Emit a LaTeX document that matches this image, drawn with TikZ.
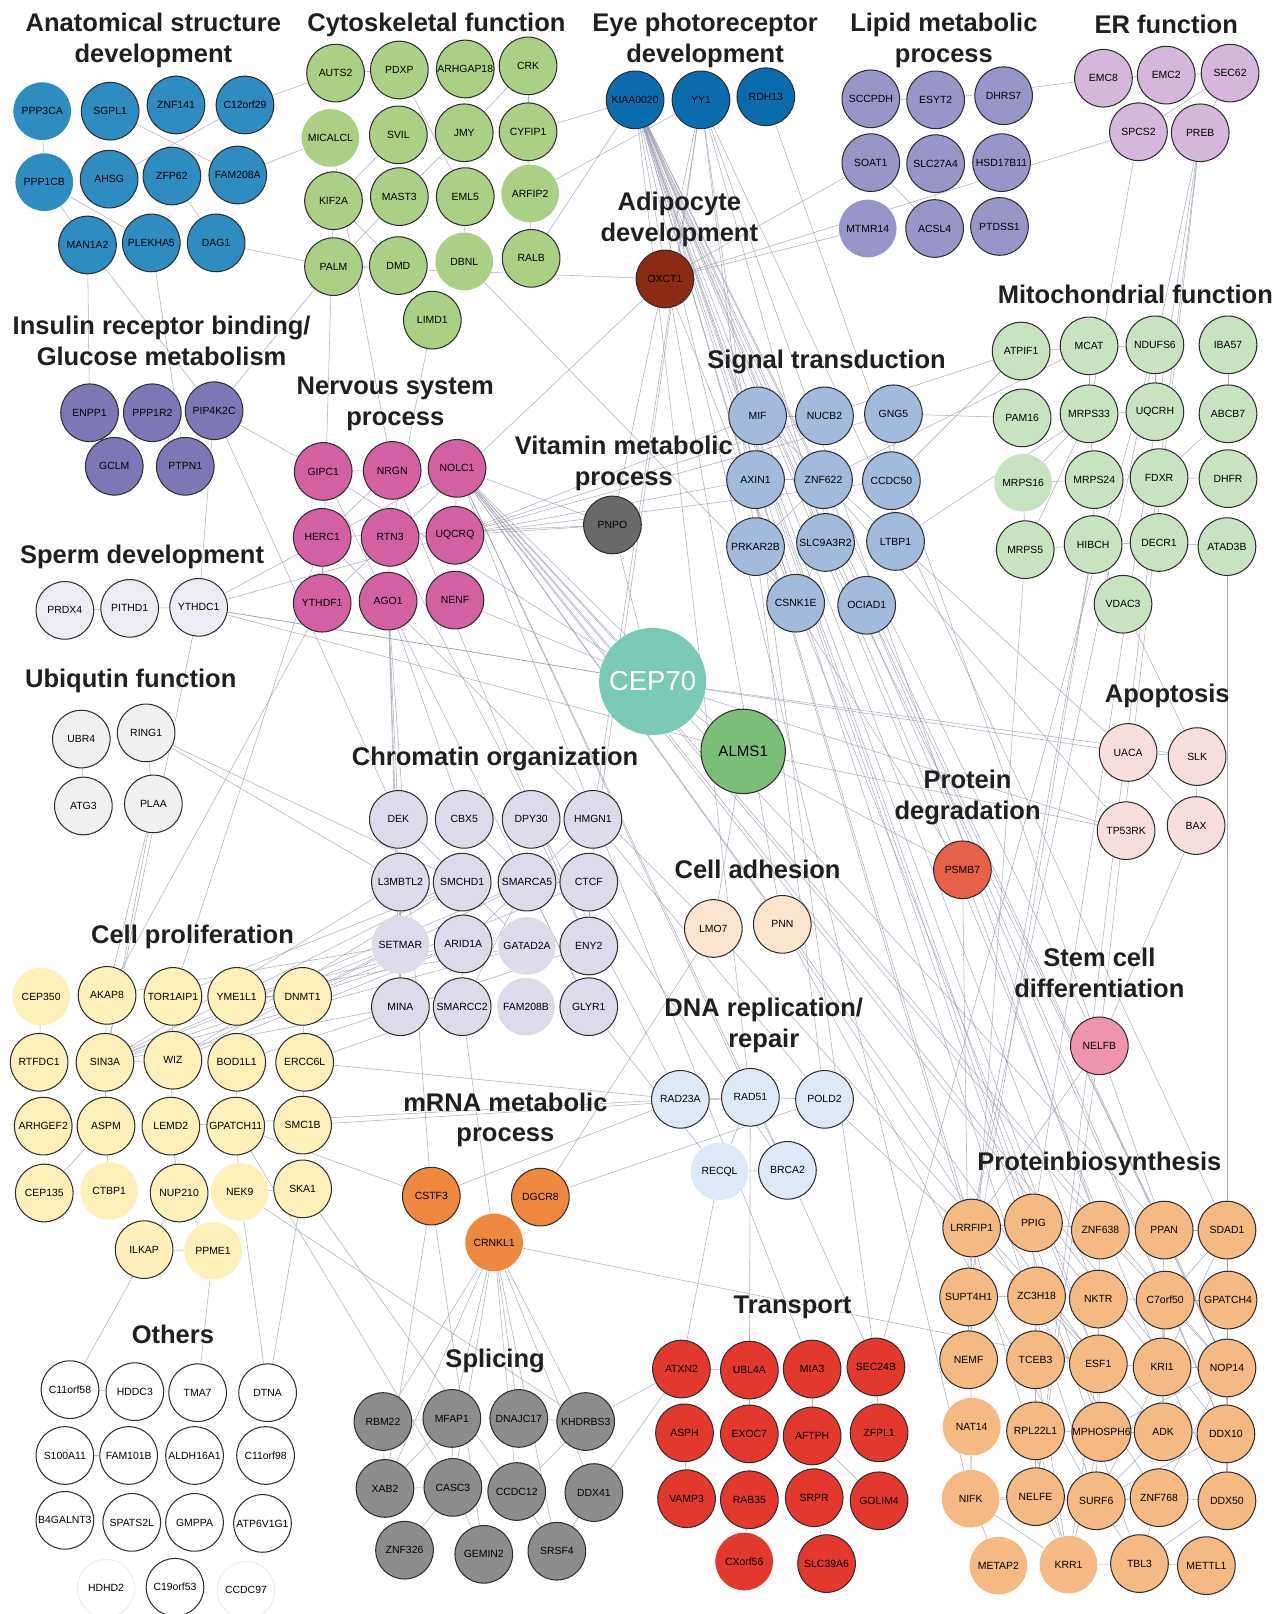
\documentclass[tikz,border=0pt]{standalone}
\usepackage{fontspec}
\setmainfont{Liberation Sans}
\usetikzlibrary{backgrounds}

\definecolor{anatC}{RGB}{46,140,192}
\definecolor{cytoC}{RGB}{170,208,134}
\definecolor{eyeC}{RGB}{10,108,172}
\definecolor{lipidC}{RGB}{152,150,200}
\definecolor{erC}{RGB}{212,183,218}
\definecolor{adipoC}{RGB}{140,42,20}
\definecolor{mitoC}{RGB}{200,227,192}
\definecolor{signalC}{RGB}{162,186,220}
\definecolor{insulinC}{RGB}{126,119,181}
\definecolor{nervC}{RGB}{211,96,162}
\definecolor{vitC}{RGB}{105,105,105}
\definecolor{spermC}{RGB}{236,236,245}
\definecolor{ubiqC}{RGB}{240,240,240}
\definecolor{cepC}{RGB}{122,201,182}
\definecolor{almsC}{RGB}{122,190,120}
\definecolor{chromC}{RGB}{219,219,236}
\definecolor{apopC}{RGB}{248,221,221}
\definecolor{degC}{RGB}{230,97,72}
\definecolor{adhC}{RGB}{252,229,206}
\definecolor{prolC}{RGB}{253,240,186}
\definecolor{stemC}{RGB}{238,148,172}
\definecolor{dnaC}{RGB}{221,233,246}
\definecolor{mrnaC}{RGB}{238,136,62}
\definecolor{protC}{RGB}{245,186,132}
\definecolor{transC}{RGB}{226,56,45}
\definecolor{splC}{RGB}{140,140,140}
\definecolor{edgeC}{RGB}{150,150,172}
\definecolor{ringC}{RGB}{45,45,45}

\tikzset{every picture/.style={line width=0.75pt}}
\tikzset{
  gene/.style={circle, draw=ringC, minimum size=42pt, inner sep=0pt, font=\fontsize{7.6}{8}\selectfont},
  nb/.style={draw=none},
  group/.style={font=\bfseries\fontsize{18.6}{22.5}\selectfont, align=center, text=black!88},
  link/.style={draw=edgeC, line width=0.4pt, opacity=0.75},
}

\begin{document}
\begin{tikzpicture}[x=0.75pt,y=0.75pt,yscale=-1,xscale=1]
\useasboundingbox (0,0) rectangle (1241,1568);

% Group titles
\node[group] (tAnat) at (149,39) {Anatomical structure\\development};
\node[group] (tCyto) at (424,24) {Cytoskeletal function};
\node[group] (tEye) at (685,39) {Eye photoreceptor\\development};
\node[group] (tLipid) at (917,39) {Lipid metabolic\\process};
\node[group] (tER) at (1133,24) {ER function};
\node[group] (tAdipo) at (660,213) {Adipocyte\\development};
\node[group] (tMito) at (1103,286) {Mitochondrial function};
\node[group] (tSignal) at (803,352) {Signal transduction};
\node[group] (tInsulin) at (157,331) {Insulin receptor binding/\\Glucose metabolism};
\node[group] (tNerv) at (384,392) {Nervous system\\process};
\node[group] (tVit) at (606,450) {Vitamin metabolic\\process};
\node[group] (tSperm) at (138,541) {Sperm development};
\node[group] (tUbiq) at (127,661) {Ubiqutin function};
\node[group] (tChrom) at (481,737) {Chromatin organization};
\node[group] (tApop) at (1134,676) {Apoptosis};
\node[group] (tDeg) at (940,775) {Protein\\degradation};
\node[group] (tAdh) at (736,845) {Cell adhesion};
\node[group] (tProl) at (187,910) {Cell proliferation};
\node[group] (tStem) at (1068,945) {Stem cell\\differentiation};
\node[group] (tDNA) at (742,996) {DNA replication/\\repair};
\node[group] (tmRNA) at (491,1088) {mRNA metabolic\\process};
\node[group] (tProt) at (1068,1131) {Proteinbiosynthesis};
\node[group] (tTrans) at (770,1270) {Transport};
\node[group] (tSpl) at (481,1322) {Splicing};
\node[group] (tOthers) at (168,1296) {Others};

% Anatomical structure development
\foreach \n/\x/\y in {SGPL1/107/108, ZNF141/171/102, C12orf29/238/102, AHSG/106/174, ZFP62/167/171,
  FAM208A/231/170, MAN1A2/85/238, PLEKHA5/147/236, DAG1/210/236}
  \node[gene, fill=anatC] (\n) at (\x,\y) {\n};
\foreach \n/\x/\y in {PPP3CA/41/108, PPP1CB/43/177}
  \node[gene, nb, fill=anatC] (\n) at (\x,\y) {\n};

% Cytoskeletal function
\foreach \n/\x/\y in {AUTS2/326/71, PDXP/388/68, ARHGAP18/452/67, CRK/513/64, SVIL/387/131, JMY/451/129,
  CYFIP1/513/128, KIF2A/324/195, MAST3/388/191, EML5/452/191, PALM/324/259, DMD/387/258,
  RALB/516/251, LIMD1/420/311}
  \node[gene, fill=cytoC] (\n) at (\x,\y) {\n};
\foreach \n/\x/\y in {MICALCL/321/134, ARFIP2/515/188, DBNL/451/254}
  \node[gene, nb, fill=cytoC] (\n) at (\x,\y) {\n};

% Eye photoreceptor development
\foreach \n/\x/\y in {KIAA0020/617/97, YY1/681/97, RDH13/744/94}
  \node[gene, fill=eyeC] (\n) at (\x,\y) {\n};

% Lipid metabolic process
\foreach \n/\x/\y in {SCCPDH/846/96, ESYT2/909/97, DHRS7/975/93, SOAT1/846/158, SLC27A4/909/159,
  HSD17B11/973/158, ACSL4/908/222, PTDSS1/971/220}
  \node[gene, fill=lipidC] (\n) at (\x,\y) {\n};
\node[gene, nb, fill=lipidC] (MTMR14) at (843,222) {MTMR14};

% ER function
\foreach \n/\x/\y in {EMC8/1072/76, EMC2/1133/73, SEC62/1195/71, SPCS2/1106/128, PREB/1166/129}
  \node[gene, fill=erC] (\n) at (\x,\y) {\n};

% Adipocyte development
\node[gene, fill=adipoC] (OXCT1) at (646,271) {OXCT1};

% Mitochondrial function
\foreach \n/\x/\y in {ATPIF1/992/341, MCAT/1058/336, NDUFS6/1122/335, IBA57/1193/335, PAM16/993/406,
  MRPS33/1058/402, UQCRH/1122/400, ABCB7/1193/402, MRPS24/1063/466, FDXR/1126/464,
  DHFR/1193/465, MRPS5/996/534, HIBCH/1062/529, DECR1/1126/527, ATAD3B/1192/531, VDAC3/1091/587}
  \node[gene, fill=mitoC] (\n) at (\x,\y) {\n};
\node[gene, nb, fill=mitoC] (MRPS16) at (994,469) {MRPS16};

% Signal transduction
\foreach \n/\x/\y in {MIF/736/404, NUCB2/801/404, GNG5/868/402, AXIN1/734/466, ZNF622/800/466,
  CCDC50/866/467, PRKAR2B/734/531, SLC9A3R2/802/527, LTBP1/870/526, CSNK1E/773/586, OCIAD1/842/588}
  \node[gene, fill=signalC] (\n) at (\x,\y) {\n};

% Insulin receptor binding / Glucose metabolism
\foreach \n/\x/\y in {ENPP1/87/401, PPP1R2/148/401, PIP4K2C/208/399, GCLM/111/453, PTPN1/180/453}
  \node[gene, fill=insulinC] (\n) at (\x,\y) {\n};

% Nervous system process
\foreach \n/\x/\y in {GIPC1/314/458, NRGN/381/457, NOLC1/444/455, HERC1/313/522, RTN3/379/522,
  UQCRQ/442/520, YTHDF1/313/586, AGO1/377/584, NENF/442/583}
  \node[gene, fill=nervC] (\n) at (\x,\y) {\n};

% Vitamin metabolic process
\node[gene, fill=vitC] (PNPO) at (595,510) {PNPO};

% Sperm development
\foreach \n/\x/\y in {PRDX4/63/593, PITHD1/126/591, YTHDC1/193/590}
  \node[gene, fill=spermC] (\n) at (\x,\y) {\n};

% Ubiqutin function
\foreach \n/\x/\y in {UBR4/79/718, RING1/142/712, ATG3/81/783, PLAA/149/781}
  \node[gene, fill=ubiqC] (\n) at (\x,\y) {\n};

% Bait proteins
\node[circle, fill=cepC, minimum size=78pt, inner sep=0pt, text=white, font=\fontsize{20}{22}\selectfont] (CEP70) at (634,662) {CEP70};
\node[circle, draw=ringC, fill=almsC, minimum size=61.5pt, inner sep=0pt, font=\fontsize{11}{12}\selectfont] (ALMS1) at (722,730) {ALMS1};

% Chromatin organization
\foreach \n/\x/\y in {DEK/387/796, CBX5/451/796, DPY30/516/796, HMGN1/576/796, L3MBTL2/389/857,
  SMCHD1/449/857, SMARCA5/512/857, CTCF/572/857, ARID1A/450/917, ENY2/572/919,
  MINA/389/978, SMARCC2/449/978, GLYR1/572/978}
  \node[gene, fill=chromC] (\n) at (\x,\y) {\n};
\foreach \n/\x/\y in {SETMAR/389/918, GATAD2A/512/919, FAM208B/511/978}
  \node[gene, nb, fill=chromC] (\n) at (\x,\y) {\n};

% Apoptosis
\foreach \n/\x/\y in {UACA/1096/731, SLK/1163/735, TP53RK/1094/807, BAX/1162/802}
  \node[gene, fill=apopC] (\n) at (\x,\y) {\n};

% Protein degradation
\node[gene, fill=degC] (PSMB7) at (935,845) {PSMB7};

% Cell adhesion
\foreach \n/\x/\y in {LMO7/693/902, PNN/760/898}
  \node[gene, fill=adhC] (\n) at (\x,\y) {\n};

% Cell proliferation
\foreach \n/\x/\y in {AKAP8/104/967, TOR1AIP1/168/968, YME1L1/230/968, DNMT1/294/968,
  RTFDC1/38/1032, SIN3A/102/1032, WIZ/168/1030, BOD1L1/230/1032, ERCC6L/296/1032,
  ARHGEF2/42/1094, ASPM/103/1094, LEMD2/166/1094, GPATCH11/229/1094, SMC1B/294/1093,
  CEP135/43/1159, NUP210/174/1159, SKA1/294/1155, ILKAP/140/1214}
  \node[gene, fill=prolC] (\n) at (\x,\y) {\n};
\foreach \n/\x/\y in {CEP350/40/968, CTBP1/106/1157, NEK9/233/1158, PPME1/207/1215}
  \node[gene, nb, fill=prolC] (\n) at (\x,\y) {\n};

% Stem cell differentiation
\node[gene, fill=stemC] (NELFB) at (1068,1016) {NELFB};

% DNA replication / repair
\foreach \n/\x/\y in {RAD23A/661/1068, RAD51/729/1066, POLD2/801/1068, BRCA2/765/1137}
  \node[gene, fill=dnaC] (\n) at (\x,\y) {\n};
\node[gene, nb, fill=dnaC] (RECQL) at (699,1138) {RECQL};

% mRNA metabolic process
\foreach \n/\x/\y in {CSTF3/419/1162, DGCR8/525/1163}
  \node[gene, fill=mrnaC] (\n) at (\x,\y) {\n};
\node[gene, nb, fill=mrnaC] (CRNKL1) at (480,1207) {CRNKL1};

% Proteinbiosynthesis
\foreach \n/\x/\y in {LRRFIP1/944/1193, PPIG/1004/1188, ZNF638/1069/1195, PPAN/1131/1195,
  SDAD1/1192/1195, SUPT4H1/941/1260, ZC3H18/1007/1259, NKTR/1067/1262, C7orf50/1132/1263,
  GPATCH4/1193/1263, NEMF/941/1321, TCEB3/1006/1321, ESF1/1067/1325, KRI1/1129/1328,
  NOP14/1192/1329, RPL22L1/1006/1390, MPHOSPH6/1070/1391, ADK/1130/1391, DDX10/1191/1393,
  NELFE/1006/1454, SURF6/1065/1458, ZNF768/1126/1455, DDX50/1192/1458, TBL3/1107/1519,
  METTL1/1172/1521}
  \node[gene, fill=protC] (\n) at (\x,\y) {\n};
\foreach \n/\x/\y in {NAT14/944/1386, NIFK/943/1456, METAP2/970/1521, KRR1/1038/1520}
  \node[gene, nb, fill=protC] (\n) at (\x,\y) {\n};

% Transport
\foreach \n/\x/\y in {ATXN2/662/1330, UBL4A/728/1331, MIA3/789/1330, SEC24B/851/1328,
  ASPH/665/1392, EXOC7/728/1393, AFTPH/789/1395, ZFPL1/854/1392, VAMP3/667/1456,
  RAB35/728/1457, SRPR/791/1455, GOLIM4/854/1458, SLC39A6/803/1519}
  \node[gene, fill=transC] (\n) at (\x,\y) {\n};
\node[gene, nb, fill=transC] (CXorf56) at (723,1517) {CXorf56};

% Splicing
\foreach \n/\x/\y in {RBM22/372/1381, MFAP1/439/1378, DNAJC17/504/1378, KHDRBS3/569/1381,
  XAB2/374/1446, CASC3/440/1445, CCDC12/502/1449, DDX41/577/1450, ZNF326/393/1506,
  GEMIN2/470/1510, SRSF4/541/1507}
  \node[gene, fill=splC] (\n) at (\x,\y) {\n};

% Others
\foreach \n/\x/\y in {C11orf58/68/1350, HDDC3/131/1352, TMA7/192/1353, DTNA/260/1353,
  S100A11/63/1414, FAM101B/125/1414, ALDH16A1/189/1414, C11orf98/258/1414,
  B4GALNT3/63/1477, SPATS2L/128/1479, GMPPA/189/1479, ATP6V1G1/255/1480, C19orf53/170/1542}
  \node[gene, fill=white] (\n) at (\x,\y) {\n};
\foreach \n/\x/\y in {HDHD2/103/1543, CCDC97/239/1545}
  \node[gene, draw=black!7, fill=white] (\n) at (\x,\y) {\n};

% Interactions
\begin{scope}[on background layer]
\foreach \a/\b in {PPP3CA/PPP1CB, PPP1CB/MAN1A2, PPP1CB/PLEKHA5, SGPL1/FAM208A, AHSG/C12orf29,
  ZFP62/DAG1, PDXP/EML5, CRK/JMY, CRK/CYFIP1, JMY/MAST3, MAST3/PALM, PALM/DMD, EML5/DBNL,
  DMD/KIF2A, SVIL/KIF2A, AUTS2/PDXP, RALB/CYFIP1, SOAT1/ACSL4, SLC27A4/ACSL4, SCCPDH/ESYT2,
  EMC8/EMC2, EMC2/SEC62, SPCS2/SEC62, PREB/SEC62, NDUFS6/UQCRH, MCAT/MRPS33, MRPS33/MRPS24,
  MRPS16/MRPS24, MRPS16/MRPS5, MRPS5/HIBCH, MRPS24/HIBCH, HIBCH/DECR1, IBA57/ABCB7, ABCB7/FDXR,
  FDXR/DHFR, ATPIF1/NDUFS6, VDAC3/HIBCH, MRPS33/MRPS5, MRPS33/MRPS16, UQCRH/MRPS33,
  DECR1/ATAD3B, MIF/NUCB2, AXIN1/ZNF622, AXIN1/CSNK1E, CSNK1E/SLC9A3R2, PRKAR2B/ZNF622,
  GNG5/LTBP1, ENPP1/GCLM, PPP1R2/PTPN1, PIP4K2C/PTPN1, GIPC1/NRGN, NRGN/HERC1, NOLC1/UQCRQ,
  RTN3/AGO1, HERC1/YTHDF1, DEK/SMCHD1, CBX5/SMARCA5, SMARCA5/CTCF, ARID1A/SMARCC2,
  SMARCA5/SMARCC2, ARID1A/SMARCA5, L3MBTL2/MINA, CTCF/ENY2, GATAD2A/SMCHD1, HMGN1/SMARCA5,
  DPY30/ENY2, GLYR1/SMARCA5, AKAP8/SIN3A, SIN3A/WIZ, SIN3A/ASPM, RTFDC1/CEP350, YME1L1/DNMT1,
  DNMT1/ERCC6L, BOD1L1/GPATCH11, GPATCH11/NEK9, NUP210/PPME1, NEK9/SKA1, LEMD2/NUP210,
  ASPM/CEP135, TOR1AIP1/LEMD2, ASPM/CTBP1, SMC1B/ERCC6L, RAD23A/RAD51, RAD51/POLD2,
  RAD51/BRCA2, RECQL/BRCA2, RAD51/RECQL, UACA/SLK, SLK/BAX, UACA/BAX, C11orf58/HDDC3,
  S100A11/FAM101B, PITHD1/YTHDC1, RING1/PLAA}
  \draw[link] (\a) -- (\b);
% mRNA and splicing
\foreach \a/\b in {CRNKL1/RBM22, CRNKL1/MFAP1, CRNKL1/DNAJC17, CRNKL1/KHDRBS3, CRNKL1/XAB2,
  CRNKL1/CASC3, CRNKL1/CCDC12, CRNKL1/SRSF4, CRNKL1/DDX41, CSTF3/XAB2, CSTF3/GEMIN2,
  RBM22/MFAP1, RBM22/XAB2, XAB2/CASC3, MFAP1/CASC3, CASC3/GEMIN2, CCDC12/SRSF4, DDX41/SRSF4,
  DNAJC17/KHDRBS3, KHDRBS3/CCDC12, XAB2/MFAP1, ZNF326/CASC3, ATXN2/UBL4A, UBL4A/EXOC7,
  MIA3/AFTPH, SEC24B/ZFPL1, AFTPH/GOLIM4, SRPR/SLC39A6, RAB35/CXorf56, ASPH/VAMP3}
  \draw[link] (\a) -- (\b);
% Proteinbiosynthesis
\foreach \a/\b in {PPAN/SDAD1, SDAD1/GPATCH4, C7orf50/GPATCH4, C7orf50/KRI1, KRI1/NOP14,
  NOP14/DDX10, DDX10/DDX50, ESF1/KRI1, ESF1/NKTR, NKTR/ZNF638, ZNF638/PPIG, PPIG/LRRFIP1,
  LRRFIP1/SUPT4H1, SUPT4H1/ZC3H18, ZC3H18/TCEB3, TCEB3/RPL22L1, RPL22L1/MPHOSPH6,
  MPHOSPH6/ADK, ADK/DDX10, NELFE/SURF6, SURF6/ZNF768, ZNF768/DDX50, KRR1/TBL3, TBL3/METTL1,
  NIFK/NELFE, NIFK/KRR1, METAP2/NIFK, ESF1/MPHOSPH6, KRI1/ADK, SURF6/TBL3, ZNF768/TBL3,
  NOP14/C7orf50, SDAD1/C7orf50, PPAN/KRI1, ESF1/SURF6, RPL22L1/NELFE, NAT14/NIFK,
  NEMF/SUPT4H1, TCEB3/ESF1, ZC3H18/ESF1, PPAN/NOP14, DDX10/SURF6, ADK/SURF6, MPHOSPH6/KRR1,
  NOP14/ZNF768, ESF1/KRR1, NIFK/SURF6, KRI1/DDX50, C7orf50/ADK, PPIG/NKTR, ZC3H18/C7orf50,
  SDAD1/KRI1, GPATCH4/NOP14, ZNF638/C7orf50, PPIG/TCEB3, NELFE/KRR1, TBL3/DDX50,
  RPL22L1/KRR1, SURF6/KRI1, MPHOSPH6/NOP14, TCEB3/KRR1, LRRFIP1/NIFK}
  \draw[link] (\a) -- (\b);
% Between groups
\foreach \a/\b in {KIAA0020/LRRFIP1, KIAA0020/PPIG, KIAA0020/ESF1, KIAA0020/NKTR,
  KIAA0020/KRI1, KIAA0020/NOP14, KIAA0020/SURF6, KIAA0020/TBL3, KIAA0020/DDX10,
  KIAA0020/PSMB7, KIAA0020/NELFB, KIAA0020/PNN, KIAA0020/MPHOSPH6, KIAA0020/RAD51,
  KIAA0020/ZNF622, KIAA0020/SLC9A3R2, KIAA0020/CSNK1E, KIAA0020/OCIAD1, KIAA0020/KRR1,
  KIAA0020/NIFK, KIAA0020/CYFIP1, KIAA0020/RALB, YY1/ZNF638, YY1/SDAD1, YY1/SEC24B,
  YY1/POLD2, YY1/CTCF, YY1/HMGN1, YY1/PNPO, YY1/SLC9A3R2, YY1/ARFIP2, RDH13/PPAN,
  NOLC1/CEP70, NOLC1/ALMS1, NOLC1/PNN, NOLC1/RAD51, NOLC1/BRCA2, NOLC1/MIA3, NOLC1/ZNF638,
  NOLC1/ESF1, NOLC1/DDX10, NOLC1/KRI1, NOLC1/PPAN, NOLC1/NOP14, NOLC1/PNPO, UQCRQ/PNPO,
  UQCRQ/MIF, UQCRQ/AXIN1, UQCRQ/CCDC50, UQCRQ/GNG5, UQCRQ/ATPIF1, HERC1/PNPO,
  CEP70/ALMS1, CEP70/UACA, CEP70/SLK, CEP70/PNPO, CEP70/YTHDC1, CEP70/TP53RK, CEP70/GIPC1,
  ALMS1/LMO7, ALMS1/PSMB7, ALMS1/TP53RK, PREB/NELFB, PREB/PPIG, PREB/LRRFIP1,
  PREB/NELFE, SPCS2/OXCT1, SPCS2/MRPS33, SOAT1/OXCT1, MTMR14/OXCT1, EMC8/ESYT2, OXCT1/PALM,
  OXCT1/CSNK1E, OXCT1/YTHDF1, DAG1/PALM, C12orf29/AUTS2, FAM208A/MICALCL, RING1/L3MBTL2,
  RING1/SMCHD1, PLAA/AKAP8, PLAA/SIN3A, YTHDC1/NOLC1, YTHDC1/CEP70, YTHDC1/SIN3A,
  PIP4K2C/MAN1A2, PIP4K2C/GIPC1, PIP4K2C/PALM, PIP4K2C/YTHDC1, AGO1/CBX5, AGO1/DEK,
  AGO1/SETMAR, SETMAR/SIN3A, ARID1A/SIN3A, L3MBTL2/SIN3A, SMCHD1/SIN3A, GATAD2A/SIN3A,
  DNMT1/SMARCA5, DNMT1/CTCF, ERCC6L/RAD23A, SMC1B/RAD51, NEK9/KHDRBS3, PPME1/TMA7,
  DTNA/SKA1, DTNA/NEK9, CSTF3/GPATCH11, CSTF3/AGO1, DGCR8/LMO7, RECQL/ATXN2,
  RAD51/UBL4A, PSMB7/ZNF638, PSMB7/SUPT4H1, NELFB/NELFE, NELFB/LRRFIP1, NELFB/BAX,
  VDAC3/SLK, ATPIF1/CCDC50, PAM16/GNG5, MRPS33/LTBP1, MCAT/ZNF622, ATAD3B/DDX50,
  HIBCH/LRRFIP1, HIBCH/SUPT4H1, MRPS5/NEMF, ATXN2/KHDRBS3, ATXN2/DDX41, SEC24B/NDUFS6,
  PNN/ZNF768, PNN/SURF6, LMO7/ADK, OCIAD1/NOP14, OCIAD1/DDX10, CSNK1E/ESF1,
  SLC9A3R2/PPAN, PRKAR2B/PSMB7, MIF/UACA, ZNF622/TP53RK, HMGN1/POLD2, CTCF/BRCA2,
  GLYR1/RECQL, SMARCC2/CRNKL1, MINA/SIN3A, DEK/PIP4K2C, WIZ/SETMAR, TOR1AIP1/SMCHD1,
  SKA1/CCDC12, GPATCH11/CASC3, NUP210/C11orf58, ILKAP/PPME1, LIMD1/RTN3, DBNL/CSNK1E,
  MICALCL/NRGN, KIF2A/YTHDF1, MAN1A2/ENPP1, PLEKHA5/PTPN1, UBR4/ATG3, PRDX4/PITHD1,
  DGCR8/POLD2, RAD23A/CSTF3, CRNKL1/ESF1, BRCA2/SEC24B, POLD2/ZC3H18, NENF/CEP70,
  YTHDC1/UQCRQ, YTHDC1/ALMS1, SETMAR/AKAP8, ARID1A/YME1L1, SMCHD1/WIZ, ERCC6L/SMARCC2,
  BOD1L1/ENY2, YME1L1/GATAD2A, SIN3A/SMARCA5, WIZ/ARID1A, HERC1/LMO7, RTN3/RAD23A,
  GIPC1/GLYR1, NRGN/ENY2, AGO1/MINA, YTHDF1/AKAP8, HERC1/TOR1AIP1, LEMD2/RAD23A}
  \draw[link] (\a) -- (\b);
\end{scope}

\end{tikzpicture}
\end{document}
